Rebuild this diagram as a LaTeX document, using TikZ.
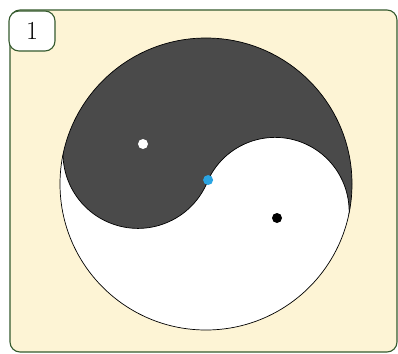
\documentclass[tikz,border=0pt]{standalone}
\usetikzlibrary{calc}
\definecolor{cream}{HTML}{FDF4D5}
\definecolor{framegreen}{HTML}{355A2E}
\definecolor{yingray}{HTML}{4A4A4A}
\definecolor{dotblue}{HTML}{2AA4E2}
\begin{document}
\begin{tikzpicture}[x=1pt, y=-1pt,
    framebox/.style={draw=framegreen, line width=1.1pt, fill=cream, rounded corners=10pt},
    numbox/.style={draw=framegreen, line width=1.1pt, fill=white, rounded corners=10pt,
      minimum width=46pt, minimum height=40pt, inner sep=0pt, font=\fontsize{26}{30}\selectfont},
    outline/.style={draw=black, line width=0.7pt}]
  \useasboundingbox (0,0) rectangle (398,353);
  \draw[framebox] (10,10) rectangle (397,352);
  \node[numbox] (num) at (32,31) {1};
  \coordinate (centre) at (206,184);
  \coordinate (darklobe) at (138,153.4);
  \coordinate (mid) at (208.1,180);
  % the disc, then the dark half clipped to it
  \fill[white] (centre) circle (146);
  \begin{scope}
    \clip (centre) circle (146);
    \fill[yingray] ($(darklobe)+(210:75)$) arc[start angle=210, end angle=20.8, radius=75]
      arc[start angle=205.1, end angle=380, radius=74] -- (420,237) -- (420,-20) -- (-20,-20) -- cycle;
    \draw[outline] ($(darklobe)+(200:75)$) arc[start angle=200, end angle=20.8, radius=75];
    \draw[outline] (mid) arc[start angle=205.1, end angle=380, radius=74];
  \end{scope}
  \draw[outline] (centre) circle (146);
  \fill[white] (143,144) circle (5);
  \fill[black] (277,218) circle (5);
  \fill[dotblue] (mid) circle (5);
\end{tikzpicture}
\end{document}
